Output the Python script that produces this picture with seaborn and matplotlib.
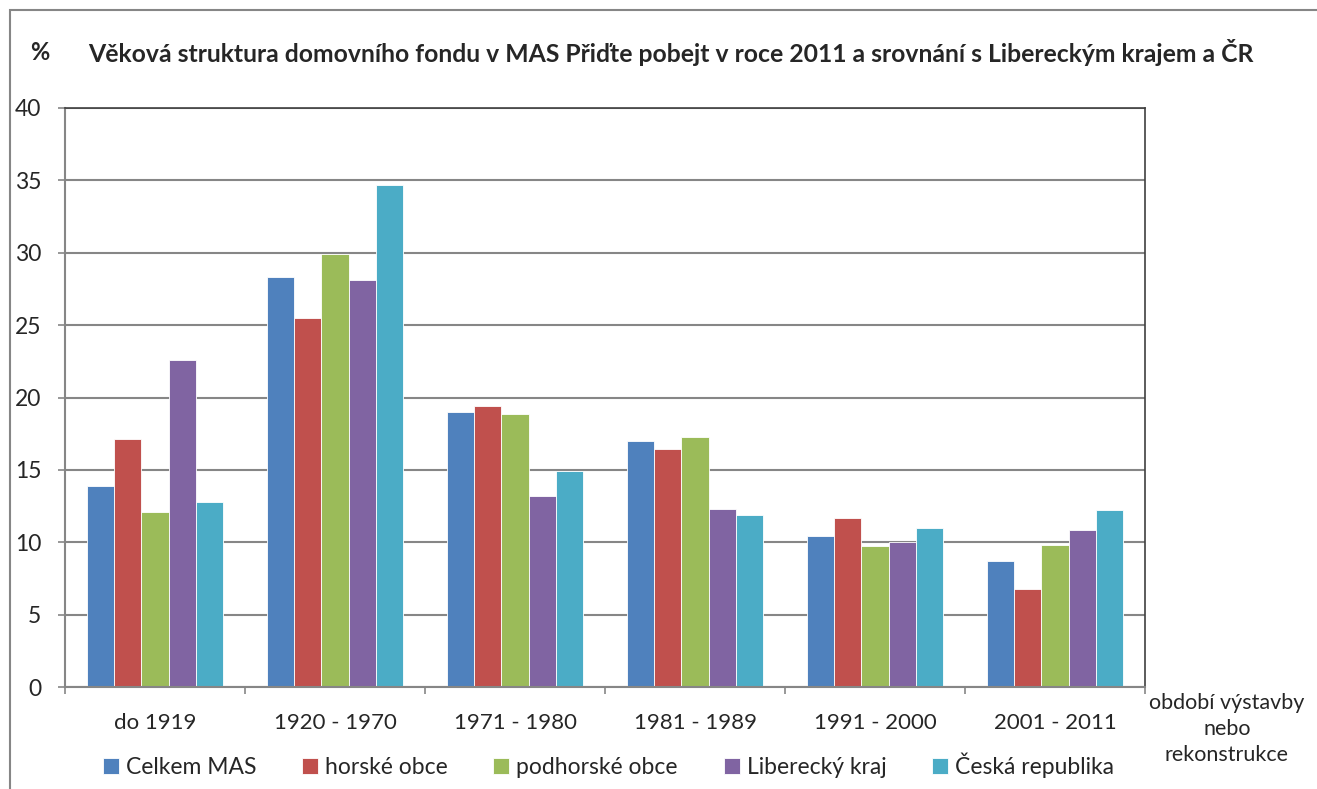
import matplotlib.pyplot as plt
import pandas as pd
import seaborn as sns
from matplotlib.patches import Rectangle
from matplotlib.ticker import FixedLocator

# data (%)
obdobi = ['do 1919', '1920 - 1970', '1971 - 1980', '1981 - 1989', '1991 - 2000', '2001 - 2011']
oblasti = ['Celkem MAS', 'horské obce', 'podhorské obce', 'Liberecký kraj', 'Česká republika']
celkem_mas = [13.9, 28.3, 19.0, 17.0, 10.45, 8.7]
horske_obce = [17.1, 25.5, 19.4, 16.45, 11.7, 6.8]
podhorske_obce = [12.1, 29.9, 18.85, 17.3, 9.75, 9.8]
liberecky_kraj = [22.6, 28.1, 13.2, 12.3, 10.05, 10.85]
ceska_republika = [12.8, 34.65, 14.95, 11.85, 10.95, 12.2]
barvy = ['#4F81BD', '#C0504D', '#9BBB59', '#8064A2', '#4BACC6']

serie = [celkem_mas, horske_obce, podhorske_obce, liberecky_kraj, ceska_republika]
rows = []
for name, vals in zip(oblasti, serie):
    for cat, v in zip(obdobi, vals):
        rows.append({'obdobi': cat, 'oblast': name, 'hodnota': v})
df = pd.DataFrame(rows)

sns.set_style('white')
plt.rcParams['font.family'] = ['Lato', 'DejaVu Sans']

fig = plt.figure(figsize=(13.17, 7.89), dpi=100)
ax = fig.add_axes([65 / 1317, 1 - 687 / 789, 1080 / 1317, 579 / 789])

sns.barplot(data=df, x='obdobi', y='hodnota', hue='oblast', order=obdobi,
            hue_order=oblasti, palette=barvy, saturation=1, width=0.76,
            edgecolor='white', linewidth=0.6, ax=ax)

ax.set_ylim(0, 40)
ax.set_xlim(-0.5, 5.5)
ax.set_yticks(range(0, 41, 5))
ax.yaxis.grid(True, color='#868686', lw=1.5)
ax.set_axisbelow(True)
ax.set_xlabel('')
ax.set_ylabel('')

for s in ['left', 'bottom']:
    ax.spines[s].set_color('#868686')
    ax.spines[s].set_linewidth(1.5)
for s in ['top', 'right']:
    ax.spines[s].set_color('#404040')
    ax.spines[s].set_linewidth(1.2)

ax.tick_params(axis='y', direction='out', length=5, width=1.2, color='#868686',
               labelsize=16.5, pad=12, left=True)
ax.tick_params(axis='x', which='major', length=0, labelsize=16, pad=19)
ax.xaxis.set_minor_locator(FixedLocator([i - 0.5 for i in range(7)]))
ax.tick_params(axis='x', which='minor', direction='out', length=5, width=1.2,
               color='#868686', bottom=True)

ax.legend(loc='center', bbox_to_anchor=(0.503, -0.135), ncol=5, frameon=False,
          fontsize=16.5, handlelength=0.7, handleheight=0.7, handletextpad=0.3,
          columnspacing=2.0)

fig.text(40 / 1317, 1 - 53 / 789, '%', fontsize=17, fontweight='bold',
         ha='center', va='center')
fig.text(88 / 1317, 1 - 53 / 789,
         'Věková struktura domovního fondu v MAS Přiďte pobejt v roce 2011 a srovnání s Libereckým krajem a ČR',
         fontsize=17.8, fontweight='bold', ha='left', va='center')
fig.text(1227 / 1317, 1 - 729 / 789, 'období výstavby\nnebo\nrekonstrukce',
         fontsize=15.5, ha='center', va='center', linespacing=1.35)

fig.patches.append(Rectangle((10 / 1317, -0.1), 1.2, (1 - 10 / 789) + 0.1,
                             transform=fig.transFigure, fill=False,
                             edgecolor='#868686', lw=1.5))

fig.savefig('out.png', dpi=100)
